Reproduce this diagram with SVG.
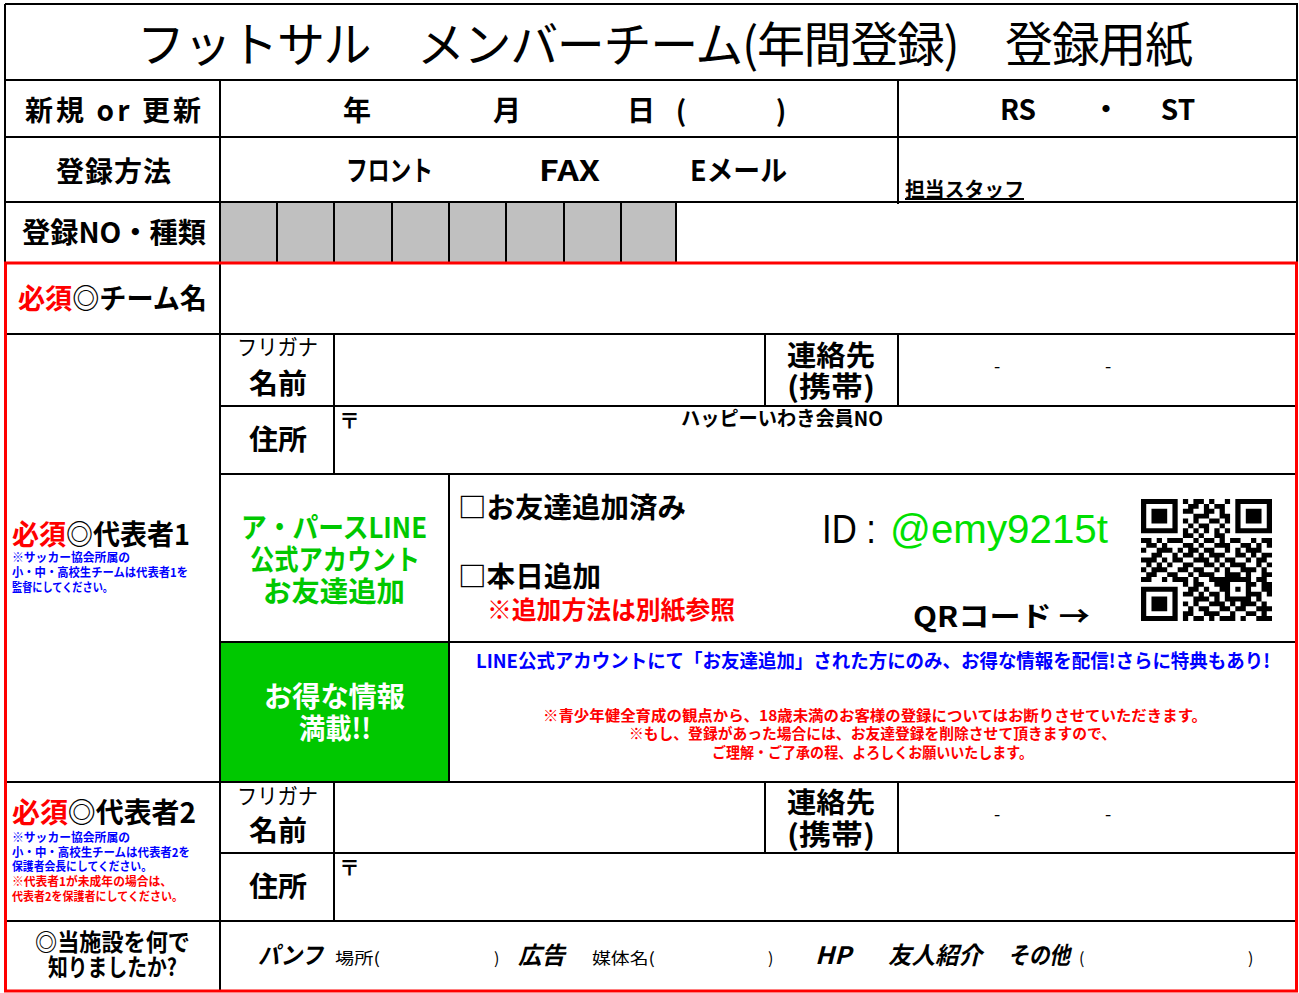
<svg xmlns="http://www.w3.org/2000/svg" width="1299" height="993" viewBox="0 0 1299 993">
<style>
text{font-family:"Noto Sans CJK JP","Noto Sans",sans-serif;fill:#000}
.b{font-weight:bold}
.r{fill:#ff0000}
.bl{fill:#0000ff}
.g{fill:#00c800}
.w{fill:#ffffff}
.lbl{font-size:28px;font-weight:bold}
.grid{fill:none;stroke:#000;stroke-width:2}
.it{font-style:italic;font-weight:bold;font-size:24px}
.sm{font-size:16px}
.note{font-size:12px;font-weight:bold}
</style>
<rect x="0" y="0" width="1299" height="993" fill="#fff"/>
<g id="fills">
<rect x="220" y="202" width="456" height="61" fill="#c0c0c0"/>
<rect x="220" y="642" width="229" height="140" fill="#00c800"/>
</g>
<g id="connectors">
<path class="grid" d="M5 4H1297V263M5 4V263M5 80H1297M5 137H1297M5 202H1297M220 80V263M898 80V204M277 202V263M334 202V263M392 202V263M449 202V263M506 202V263M564 202V263M621 202V263M676 202V263M220 263V991M5 334H1297M220 406H1297M220 474H1297M220 642H1297M5 782H1297M220 853H1297M5 921H1297M334 334V474M765 334V406M898 334V406M449 474V782M334 782V921M765 782V853M898 782V853"/>
<rect x="5.5" y="263" width="1291" height="728" fill="none" stroke="#ff0000" stroke-width="3"/>
</g>
<g id="title">
<text x="137" y="62" font-size="48" textLength="1056">フットサル　メンバーチーム(年間登録)　登録用紙</text>
</g>
<g id="row-type">
<text class="lbl" x="25" y="121" textLength="176">新規 or 更新</text>
<text class="lbl" x="357" y="121" text-anchor="middle">年</text>
<text class="lbl" x="507" y="121" text-anchor="middle">月</text>
<text class="lbl" x="641" y="121" text-anchor="middle">日</text>
<text class="lbl" x="681" y="121" text-anchor="middle">(</text>
<text class="lbl" x="781" y="121" text-anchor="middle">)</text>
<text class="lbl" x="1018" y="120" text-anchor="middle">RS</text>
<text class="lbl" x="1106" y="120" text-anchor="middle">・</text>
<text class="lbl" x="1178" y="120" text-anchor="middle">ST</text>
</g>
<g id="row-method">
<text class="lbl" x="56" y="182" textLength="115">登録方法</text>
<text class="lbl" x="346" y="181" textLength="87" lengthAdjust="spacingAndGlyphs">フロント</text>
<text class="lbl" x="539" y="181" textLength="61" lengthAdjust="spacingAndGlyphs">FAX</text>
<text class="lbl" x="690" y="181" textLength="97" lengthAdjust="spacingAndGlyphs">Eメール</text>
<text x="905" y="197" font-size="20" font-weight="bold" textLength="119" lengthAdjust="spacingAndGlyphs" text-decoration="underline">担当スタッフ</text>
</g>
<g id="row-no">
<text class="lbl" x="22" y="243" textLength="184" lengthAdjust="spacingAndGlyphs">登録NO・種類</text>
</g>
<g id="team-name">
<text class="lbl" x="18" y="309" textLength="189" lengthAdjust="spacingAndGlyphs"><tspan class="r">必須</tspan>◎チーム名</text>
</g>
<g id="rep1-label">
<text class="lbl" x="12" y="545" textLength="178" lengthAdjust="spacingAndGlyphs"><tspan class="r">必須</tspan>◎代表者1</text>
<text class="bl note" x="12" y="562" textLength="118" lengthAdjust="spacingAndGlyphs">※サッカー協会所属の</text>
<text class="bl note" x="12" y="577" textLength="176" lengthAdjust="spacingAndGlyphs">小・中・高校生チームは代表者1を</text>
<text class="bl note" x="12" y="592" textLength="101" lengthAdjust="spacingAndGlyphs">監督にしてください。</text>
</g>
<g id="rep1-name">
<text x="237" y="355" font-size="22" textLength="81" lengthAdjust="spacingAndGlyphs">フリガナ</text>
<text class="lbl" x="249" y="394" textLength="58" lengthAdjust="spacingAndGlyphs">名前</text>
<text class="lbl" x="787" y="366" textLength="88" lengthAdjust="spacingAndGlyphs">連絡先</text>
<text class="lbl" x="787" y="397" textLength="88" lengthAdjust="spacingAndGlyphs">(携帯)</text>
<text x="997" y="373" font-size="18" text-anchor="middle">-</text>
<text x="1108" y="373" font-size="18" text-anchor="middle">-</text>
</g>
<g id="rep1-address">
<text class="lbl" x="249" y="450" textLength="58" lengthAdjust="spacingAndGlyphs">住所</text>
<text x="339" y="428" font-size="21" font-weight="bold">〒</text>
<text x="681" y="426" font-size="20" font-weight="bold" textLength="202" lengthAdjust="spacingAndGlyphs">ハッピーいわき会員NO</text>
</g>
<g id="line-add">
<text class="lbl g" x="241" y="538" textLength="186" lengthAdjust="spacingAndGlyphs">ア・パースLINE</text>
<text class="lbl g" x="250" y="570" textLength="170" lengthAdjust="spacingAndGlyphs">公式アカウント</text>
<text class="lbl g" x="263" y="602" textLength="142" lengthAdjust="spacingAndGlyphs">お友達追加</text>
</g>
<g id="line-check">
<text class="lbl" x="458" y="518" textLength="228" lengthAdjust="spacingAndGlyphs">□お友達追加済み</text>
<text class="lbl" x="458" y="587" textLength="143" lengthAdjust="spacingAndGlyphs">□本日追加</text>
<text class="r" x="487" y="619" font-size="25" font-weight="bold" textLength="248" lengthAdjust="spacingAndGlyphs">※追加方法は別紙参照</text>
<text x="822" y="543" font-size="40" style="font-family:'Liberation Sans',sans-serif" textLength="54" lengthAdjust="spacingAndGlyphs">ID :</text>
<text x="890" y="543" font-size="40" style="font-family:'Liberation Sans',sans-serif;fill:#00e000" textLength="218" lengthAdjust="spacingAndGlyphs">@emy9215t</text>
<text class="lbl" x="913" y="627" textLength="177" lengthAdjust="spacingAndGlyphs">QRコード →</text>
<path fill="#000" transform="translate(1141,499) scale(5.24,4.88)" d="M0 0h7v1h-7zM8 0h1v1h-1zM10 0h2v1h-2zM13 0h1v1h-1zM16 0h1v1h-1zM18 0h7v1h-7zM0 1h1v1h-1zM6 1h1v1h-1zM9 1h2v1h-2zM12 1h1v1h-1zM14 1h2v1h-2zM18 1h1v1h-1zM24 1h1v1h-1zM0 2h1v1h-1zM2 2h3v1h-3zM6 2h1v1h-1zM8 2h2v1h-2zM12 2h2v1h-2zM15 2h1v1h-1zM18 2h1v1h-1zM20 2h3v1h-3zM24 2h1v1h-1zM0 3h1v1h-1zM2 3h3v1h-3zM6 3h1v1h-1zM10 3h3v1h-3zM15 3h2v1h-2zM18 3h1v1h-1zM20 3h3v1h-3zM24 3h1v1h-1zM0 4h1v1h-1zM2 4h3v1h-3zM6 4h1v1h-1zM8 4h1v1h-1zM10 4h1v1h-1zM13 4h2v1h-2zM16 4h1v1h-1zM18 4h1v1h-1zM20 4h3v1h-3zM24 4h1v1h-1zM0 5h1v1h-1zM6 5h1v1h-1zM9 5h1v1h-1zM11 5h2v1h-2zM15 5h1v1h-1zM18 5h1v1h-1zM24 5h1v1h-1zM0 6h7v1h-7zM8 6h1v1h-1zM10 6h1v1h-1zM12 6h1v1h-1zM14 6h1v1h-1zM16 6h1v1h-1zM18 6h7v1h-7zM8 7h2v1h-2zM11 7h1v1h-1zM14 7h2v1h-2zM0 8h2v1h-2zM3 8h1v1h-1zM5 8h3v1h-3zM10 8h1v1h-1zM12 8h2v1h-2zM15 8h1v1h-1zM17 8h2v1h-2zM21 8h1v1h-1zM23 8h2v1h-2zM1 9h2v1h-2zM4 9h1v1h-1zM8 9h2v1h-2zM11 9h1v1h-1zM14 9h3v1h-3zM19 9h2v1h-2zM22 9h1v1h-1zM24 9h1v1h-1zM0 10h1v1h-1zM3 10h3v1h-3zM7 10h1v1h-1zM9 10h2v1h-2zM12 10h2v1h-2zM16 10h1v1h-1zM18 10h1v1h-1zM20 10h3v1h-3zM2 11h2v1h-2zM6 11h1v1h-1zM8 11h2v1h-2zM11 11h1v1h-1zM13 11h3v1h-3zM18 11h2v1h-2zM21 11h1v1h-1zM23 11h2v1h-2zM0 12h3v1h-3zM4 12h1v1h-1zM6 12h2v1h-2zM10 12h3v1h-3zM14 12h1v1h-1zM16 12h2v1h-2zM20 12h1v1h-1zM22 12h2v1h-2zM1 13h1v1h-1zM3 13h1v1h-1zM5 13h1v1h-1zM8 13h2v1h-2zM12 13h2v1h-2zM15 13h1v1h-1zM17 13h3v1h-3zM22 13h1v1h-1zM24 13h1v1h-1zM0 14h1v1h-1zM2 14h3v1h-3zM7 14h2v1h-2zM10 14h2v1h-2zM14 14h1v1h-1zM16 14h1v1h-1zM19 14h3v1h-3zM23 14h1v1h-1zM1 15h2v1h-2zM5 15h2v1h-2zM9 15h1v1h-1zM11 15h3v1h-3zM16 15h3v1h-3zM20 15h1v1h-1zM23 15h2v1h-2zM0 16h2v1h-2zM4 16h1v1h-1zM6 16h3v1h-3zM10 16h1v1h-1zM13 16h8v1h-8zM22 16h2v1h-2zM8 17h1v1h-1zM10 17h2v1h-2zM14 17h3v1h-3zM20 17h2v1h-2zM23 17h2v1h-2zM0 18h7v1h-7zM9 18h2v1h-2zM12 18h1v1h-1zM15 18h2v1h-2zM18 18h1v1h-1zM20 18h1v1h-1zM23 18h2v1h-2zM0 19h1v1h-1zM6 19h1v1h-1zM8 19h2v1h-2zM11 19h1v1h-1zM13 19h2v1h-2zM16 19h1v1h-1zM20 19h3v1h-3zM24 19h1v1h-1zM0 20h1v1h-1zM2 20h3v1h-3zM6 20h1v1h-1zM10 20h3v1h-3zM14 20h1v1h-1zM16 20h5v1h-5zM22 20h1v1h-1zM0 21h1v1h-1zM2 21h3v1h-3zM6 21h1v1h-1zM8 21h1v1h-1zM10 21h1v1h-1zM13 21h3v1h-3zM17 21h1v1h-1zM19 21h3v1h-3zM23 21h1v1h-1zM0 22h1v1h-1zM2 22h3v1h-3zM6 22h1v1h-1zM9 22h1v1h-1zM11 22h2v1h-2zM15 22h2v1h-2zM18 22h2v1h-2zM22 22h3v1h-3zM0 23h1v1h-1zM6 23h1v1h-1zM8 23h2v1h-2zM12 23h3v1h-3zM17 23h1v1h-1zM20 23h2v1h-2zM23 23h1v1h-1zM0 24h7v1h-7zM8 24h1v1h-1zM10 24h2v1h-2zM13 24h1v1h-1zM15 24h3v1h-3zM19 24h1v1h-1zM22 24h3v1h-3z"/>
</g>
<g id="info-box">
<text class="lbl w" x="264" y="707" textLength="141" lengthAdjust="spacingAndGlyphs">お得な情報</text>
<text class="lbl w" x="299" y="739" textLength="72" lengthAdjust="spacingAndGlyphs">満載!!</text>
</g>
<g id="info-text">
<text class="bl b" x="476" y="668" font-size="19" textLength="794" lengthAdjust="spacingAndGlyphs">LINE公式アカウントにて「お友達追加」された方にのみ、お得な情報を配信!さらに特典もあり!</text>
<text class="r b" x="543" y="721" font-size="15" textLength="664" lengthAdjust="spacingAndGlyphs">※青少年健全育成の観点から、18歳未満のお客様の登録についてはお断りさせていただきます。</text>
<text class="r b" x="629" y="739" font-size="15" textLength="487" lengthAdjust="spacingAndGlyphs">※もし、登録があった場合には、お友達登録を削除させて頂きますので、</text>
<text class="r b" x="712" y="758" font-size="15" textLength="321" lengthAdjust="spacingAndGlyphs">ご理解・ご了承の程、よろしくお願いいたします。</text>
</g>
<g id="rep2-label">
<text class="lbl" x="12" y="823" textLength="184" lengthAdjust="spacingAndGlyphs"><tspan class="r">必須</tspan>◎代表者2</text>
<text class="bl note" x="12" y="842" textLength="118" lengthAdjust="spacingAndGlyphs">※サッカー協会所属の</text>
<text class="bl note" x="12" y="857" textLength="178" lengthAdjust="spacingAndGlyphs">小・中・高校生チームは代表者2を</text>
<text class="bl note" x="12" y="871" textLength="140" lengthAdjust="spacingAndGlyphs">保護者会長にしてください。</text>
<text class="r note" x="12" y="886" textLength="160" lengthAdjust="spacingAndGlyphs">※代表者1が未成年の場合は、</text>
<text class="r note" x="12" y="901" textLength="171" lengthAdjust="spacingAndGlyphs">代表者2を保護者にしてください。</text>
</g>
<g id="rep2-name">
<text x="237" y="804" font-size="22" textLength="81" lengthAdjust="spacingAndGlyphs">フリガナ</text>
<text class="lbl" x="249" y="841" textLength="58" lengthAdjust="spacingAndGlyphs">名前</text>
<text class="lbl" x="787" y="813" textLength="88" lengthAdjust="spacingAndGlyphs">連絡先</text>
<text class="lbl" x="787" y="845" textLength="88" lengthAdjust="spacingAndGlyphs">(携帯)</text>
<text x="997" y="821" font-size="18" text-anchor="middle">-</text>
<text x="1108" y="821" font-size="18" text-anchor="middle">-</text>
</g>
<g id="rep2-address">
<text class="lbl" x="249" y="897" textLength="58" lengthAdjust="spacingAndGlyphs">住所</text>
<text x="339" y="875" font-size="21" font-weight="bold">〒</text>
</g>
<g id="source">
<text x="35" y="951" font-size="24" font-weight="bold" textLength="155" lengthAdjust="spacingAndGlyphs">◎当施設を何で</text>
<text x="48" y="976" font-size="24" font-weight="bold" textLength="129" lengthAdjust="spacingAndGlyphs">知りましたか?</text>
<text class="it" x="258" y="964" textLength="65" lengthAdjust="spacingAndGlyphs">パンフ</text>
<text class="sm" x="335" y="964" textLength="45" lengthAdjust="spacingAndGlyphs">場所(</text>
<text class="sm" x="494" y="964">)</text>
<text class="it" x="518" y="964" textLength="47" lengthAdjust="spacingAndGlyphs">広告</text>
<text class="sm" x="592" y="964" textLength="63" lengthAdjust="spacingAndGlyphs">媒体名(</text>
<text class="sm" x="768" y="964">)</text>
<text class="it" x="815" y="964" textLength="36" lengthAdjust="spacingAndGlyphs">HP</text>
<text class="it" x="888" y="964" textLength="94" lengthAdjust="spacingAndGlyphs">友人紹介</text>
<text class="it" x="1008" y="964" textLength="62" lengthAdjust="spacingAndGlyphs">その他</text>
<text class="sm" x="1079" y="964">(</text>
<text class="sm" x="1248" y="964">)</text>
</g>
</svg>
